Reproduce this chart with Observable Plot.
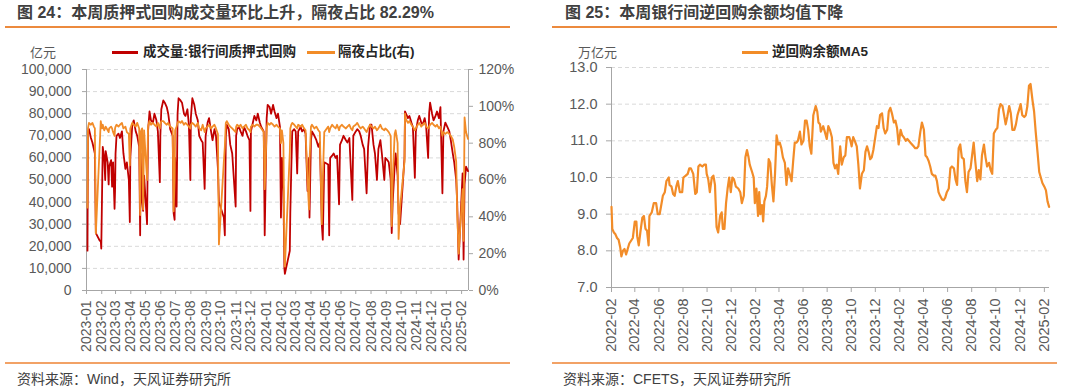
<!DOCTYPE html>
<html><head><meta charset="utf-8">
<script src="https://cdn.jsdelivr.net/npm/d3@7"></script>
<script src="https://cdn.jsdelivr.net/npm/@observablehq/plot@0.6"></script>
<style>
body{margin:0;background:#fff;}
#root{position:relative;width:1080px;height:392px;overflow:hidden;background:#fff;}
.abs{position:absolute;white-space:nowrap;}
.title{font-family:"Liberation Sans","Noto Sans CJK SC",sans-serif;font-weight:700;font-size:16px;line-height:16px;color:#404040;}
.rule{height:1.5px;}
.unit{font-family:"Noto Sans CJK SC",sans-serif;font-size:13px;line-height:14px;color:#595959;}
.leg{font-family:"Liberation Sans","Noto Sans CJK SC",sans-serif;font-weight:700;font-size:13.5px;line-height:14px;color:#262626;}
.legline{height:2.5px;}
.src{font-family:"Liberation Sans","Noto Sans CJK SC",sans-serif;font-size:14px;line-height:14px;color:#404040;}
.chart{position:absolute;top:0;}
</style></head>
<body>
<div id="root">
  <div class="abs title" style="left:17px;top:5px;">图 24：本周质押式回购成交量环比上升，隔夜占比 82.29%</div>
  <div class="abs rule" style="left:5px;top:26px;width:505px;background:#EC8A3D;"></div>
  <div class="abs title" style="left:565px;top:5px;">图 25：本周银行间逆回购余额均值下降</div>
  <div class="abs rule" style="left:552px;top:26px;width:505px;background:#EC8A3D;"></div>

  <div id="c1" class="chart" style="left:0px;"></div>
  <div id="c2" class="chart" style="left:540px;"></div>

  <div class="abs unit" style="left:30px;top:45px;">亿元</div>
  <div class="abs legline" style="left:112px;top:51px;width:26px;background:#C00000;"></div>
  <div class="abs leg" style="left:143px;top:45px;">成交量:银行间质押式回购</div>
  <div class="abs legline" style="left:307px;top:51px;width:28px;background:#F28C28;"></div>
  <div class="abs leg" style="left:338px;top:45px;">隔夜占比(右)</div>

  <div class="abs unit" style="left:578px;top:45px;">万亿元</div>
  <div class="abs legline" style="left:742px;top:51px;width:26px;background:#F28C28;"></div>
  <div class="abs leg" style="left:772px;top:45px;">逆回购余额MA5</div>

  <div class="abs rule" style="left:5px;top:362px;width:505px;background:#F2A266;"></div>
  <div class="abs rule" style="left:552px;top:362px;width:505px;background:#F2A266;"></div>
  <div class="abs src" style="left:17px;top:372px;">资料来源：Wind，天风证券研究所</div>
  <div class="abs src" style="left:563px;top:372px;">资料来源：CFETS，天风证券研究所</div>
</div>
<script>
// ---------- Figure 24 data ----------
const leftDates = ["2023-01-03","2023-01-04","2023-01-06","2023-01-10","2023-01-13","2023-01-16","2023-01-18","2023-01-20","2023-01-28","2023-01-30","2023-01-31","2023-02-02","2023-02-03","2023-02-06","2023-02-08","2023-02-09","2023-02-13","2023-02-15","2023-02-16","2023-02-20","2023-02-22","2023-02-24","2023-02-27","2023-02-28","2023-03-01","2023-03-03","2023-03-07","2023-03-10","2023-03-14","2023-03-17","2023-03-21","2023-03-24","2023-03-28","2023-03-30","2023-03-31","2023-04-04","2023-04-07","2023-04-11","2023-04-14","2023-04-18","2023-04-20","2023-04-21","2023-04-24","2023-04-26","2023-04-28","2023-05-04","2023-05-06","2023-05-09","2023-05-12","2023-05-16","2023-05-19","2023-05-23","2023-05-26","2023-05-30","2023-05-31","2023-06-02","2023-06-06","2023-06-09","2023-06-13","2023-06-16","2023-06-20","2023-06-25","2023-06-27","2023-06-29","2023-06-30","2023-07-03","2023-07-05","2023-07-07","2023-07-11","2023-07-14","2023-07-18","2023-07-21","2023-07-25","2023-07-28","2023-07-31","2023-08-01","2023-08-04","2023-08-08","2023-08-11","2023-08-15","2023-08-18","2023-08-22","2023-08-25","2023-08-29","2023-08-31","2023-09-04","2023-09-07","2023-09-11","2023-09-14","2023-09-18","2023-09-21","2023-09-25","2023-09-27","2023-10-07","2023-10-09","2023-10-11","2023-10-13","2023-10-17","2023-10-20","2023-10-24","2023-10-31","2023-11-01","2023-11-03","2023-11-07","2023-11-10","2023-11-14","2023-11-17","2023-11-21","2023-11-24","2023-11-28","2023-11-30","2023-12-01","2023-12-05","2023-12-08","2023-12-12","2023-12-15","2023-12-19","2023-12-22","2023-12-27","2023-12-29","2024-01-02","2024-01-04","2024-01-08","2024-01-11","2024-01-15","2024-01-18","2024-01-22","2024-01-25","2024-01-29","2024-01-31","2024-02-02","2024-02-05","2024-02-07","2024-02-08","2024-02-18","2024-02-19","2024-02-21","2024-02-23","2024-02-27","2024-03-01","2024-03-04","2024-03-06","2024-03-11","2024-03-14","2024-03-18","2024-03-21","2024-03-25","2024-03-28","2024-03-29","2024-04-01","2024-04-03","2024-04-08","2024-04-12","2024-04-16","2024-04-19","2024-04-23","2024-04-25","2024-04-28","2024-05-06","2024-05-08","2024-05-10","2024-05-14","2024-05-17","2024-05-21","2024-05-24","2024-05-28","2024-05-30","2024-06-03","2024-06-06","2024-06-11","2024-06-14","2024-06-18","2024-06-21","2024-06-24","2024-06-26","2024-07-01","2024-07-04","2024-07-08","2024-07-11","2024-07-15","2024-07-18","2024-07-23","2024-07-26","2024-07-30","2024-08-02","2024-08-06","2024-08-09","2024-08-13","2024-08-16","2024-08-20","2024-08-23","2024-08-28","2024-08-30","2024-09-03","2024-09-06","2024-09-10","2024-09-12","2024-09-14","2024-09-18","2024-09-20","2024-09-24","2024-09-26","2024-09-29","2024-10-08","2024-10-09","2024-10-11","2024-10-15","2024-10-18","2024-10-22","2024-10-25","2024-10-29","2024-10-31","2024-11-04","2024-11-07","2024-11-11","2024-11-14","2024-11-18","2024-11-21","2024-11-25","2024-11-27","2024-11-29","2024-12-03","2024-12-06","2024-12-10","2024-12-13","2024-12-17","2024-12-20","2024-12-24","2024-12-26","2024-12-30","2025-01-03","2025-01-07","2025-01-10","2025-01-14","2025-01-17","2025-01-21","2025-01-23","2025-01-26","2025-02-03","2025-02-05","2025-02-07","2025-02-10","2025-02-14"];
// 成交量:银行间质押式回购 (亿元)
const repoVolume = [18000,72000,73000,69000,67000,64000,62000,26000,22500,22500,19000,50000,65000,60000,50000,63000,58000,48000,56000,59000,47000,58000,37000,45000,62000,70000,71000,69000,72000,62000,55000,58000,50000,31000,60000,75000,77000,72000,70000,65000,25000,62000,40000,36000,52000,30000,72000,81000,77000,76000,80000,77000,72000,49000,70000,82000,86000,85000,83000,80000,73000,70000,35000,32000,60000,38000,80000,87000,86000,85000,80000,79000,82000,75000,50000,78000,87000,84000,80000,77000,70000,68000,67000,46000,70000,76000,78000,72000,68000,73000,70000,55000,40000,33000,25000,70000,75000,73000,66000,62000,38000,70000,73000,74000,72000,70000,74000,72000,70000,68000,36000,72000,76000,79000,77000,80000,76000,74000,72000,25000,78000,84000,83000,80000,84000,81000,78000,80000,74000,33000,60000,45000,10000,7500,18000,35000,55000,72000,73000,72000,53000,72000,74000,72000,73000,71000,45000,60000,33000,68000,72000,70000,68000,65000,67000,30000,23000,58000,57000,25000,60000,61000,62000,60000,61000,39000,66000,68000,70000,68000,67000,69000,55000,41000,70000,72000,73000,72000,70000,66000,64000,44000,65000,75000,75000,66000,62000,50000,64000,68000,62000,50000,60000,59000,58000,50000,26000,40000,56000,62000,52000,35000,30000,60000,81000,80000,78000,79000,76000,74000,51000,72000,77000,79000,76000,75000,78000,74000,60000,80000,85000,80000,77000,79000,81000,78000,83000,44000,72000,76000,74000,72000,68000,62000,58000,50000,40000,14000,53000,14000,48000,56000,54000];
// 隔夜占比 (%)
const overnightShare = [45,88,91,90,91,89,88,31,80,92,90,88,90,87,88,89,87,86,88,89,88,86,84,88,89,90,89,90,91,88,89,86,85,68,88,91,90,89,91,88,41,86,88,44,87,60,89,92,90,91,90,89,91,88,90,92,92,91,90,91,89,88,43,60,87,89,91,92,91,92,90,91,90,89,88,90,91,90,89,91,88,87,90,86,88,89,90,88,89,90,88,85,25,70,78,91,92,90,89,88,86,89,90,89,90,88,89,90,88,87,86,89,90,89,90,90,89,88,86,55,88,91,90,91,90,89,90,89,88,80,87,80,20,13,75,88,90,91,90,89,88,90,89,90,88,87,60,44,70,89,90,88,89,87,86,36,60,86,89,86,88,90,89,88,90,87,89,90,89,88,89,90,88,87,89,90,91,89,88,89,88,86,88,90,89,88,89,87,88,90,88,87,88,87,86,84,35,60,85,87,80,28,45,70,96,93,91,92,90,89,87,88,90,91,89,90,91,89,88,89,90,91,90,89,90,88,89,84,86,85,86,85,84,82,78,70,43,20,55,27,94,86,82.29];
const volTicks = [0,10000,20000,30000,40000,50000,60000,70000,80000,90000,100000];
const shareTicks = [0,20,40,60,80,100,120];

// ---------- Figure 25 data ----------
const rrDates = ["2022-02-01","2022-02-03","2022-02-07","2022-02-11","2022-02-15","2022-02-19","2022-02-23","2022-02-26","2022-03-02","2022-03-06","2022-03-10","2022-03-14","2022-03-18","2022-03-27","2022-04-01","2022-04-05","2022-04-07","2022-04-11","2022-04-15","2022-04-20","2022-04-24","2022-04-28","2022-05-02","2022-05-06","2022-05-08","2022-05-14","2022-05-19","2022-05-25","2022-05-29","2022-06-03","2022-06-07","2022-06-11","2022-06-16","2022-06-20","2022-06-26","2022-06-28","2022-07-03","2022-07-07","2022-07-11","2022-07-15","2022-07-19","2022-07-24","2022-07-30","2022-08-02","2022-08-08","2022-08-13","2022-08-17","2022-08-21","2022-08-27","2022-09-01","2022-09-05","2022-09-09","2022-09-13","2022-09-19","2022-09-24","2022-09-28","2022-09-30","2022-10-04","2022-10-08","2022-10-13","2022-10-17","2022-10-21","2022-10-25","2022-10-29","2022-11-03","2022-11-07","2022-11-10","2022-11-14","2022-11-18","2022-11-22","2022-11-26","2022-11-30","2022-12-04","2022-12-08","2022-12-13","2022-12-19","2022-12-24","2022-12-28","2023-01-02","2023-01-06","2023-01-10","2023-01-14","2023-01-17","2023-01-23","2023-01-27","2023-01-30","2023-02-03","2023-02-07","2023-02-10","2023-02-13","2023-02-17","2023-02-20","2023-02-23","2023-02-27","2023-03-02","2023-03-06","2023-03-10","2023-03-14","2023-03-18","2023-03-22","2023-03-26","2023-03-30","2023-04-03","2023-04-07","2023-04-11","2023-04-16","2023-04-20","2023-04-24","2023-04-28","2023-05-03","2023-05-07","2023-05-11","2023-05-15","2023-05-19","2023-05-24","2023-05-28","2023-06-02","2023-06-06","2023-06-10","2023-06-14","2023-06-18","2023-06-22","2023-06-27","2023-07-03","2023-07-07","2023-07-10","2023-07-14","2023-07-16","2023-07-22","2023-07-26","2023-07-31","2023-08-04","2023-08-08","2023-08-13","2023-08-17","2023-08-21","2023-08-25","2023-08-29","2023-09-03","2023-09-07","2023-09-12","2023-09-16","2023-09-20","2023-09-26","2023-09-29","2023-10-02","2023-10-06","2023-10-10","2023-10-15","2023-10-19","2023-10-23","2023-10-28","2023-11-02","2023-11-06","2023-11-10","2023-11-14","2023-11-18","2023-11-22","2023-11-26","2023-12-05","2023-12-09","2023-12-13","2023-12-18","2023-12-22","2023-12-26","2023-12-31","2024-01-04","2024-01-08","2024-01-12","2024-01-17","2024-01-21","2024-01-25","2024-01-29","2024-02-03","2024-02-07","2024-02-11","2024-02-16","2024-02-20","2024-02-24","2024-02-28","2024-03-07","2024-03-11","2024-03-15","2024-03-19","2024-03-24","2024-03-28","2024-04-02","2024-04-06","2024-04-10","2024-04-14","2024-04-18","2024-04-22","2024-04-27","2024-05-01","2024-05-05","2024-05-09","2024-05-13","2024-05-18","2024-05-22","2024-05-26","2024-05-30","2024-06-04","2024-06-08","2024-06-12","2024-06-17","2024-06-21","2024-06-25","2024-06-29","2024-07-03","2024-07-07","2024-07-12","2024-07-16","2024-07-20","2024-07-24","2024-07-29","2024-08-02","2024-08-06","2024-08-10","2024-08-15","2024-08-19","2024-08-23","2024-08-27","2024-09-01","2024-09-05","2024-09-09","2024-09-14","2024-09-18","2024-09-22","2024-09-26","2024-10-01","2024-10-05","2024-10-09","2024-10-13","2024-10-18","2024-10-22","2024-10-26","2024-10-30","2024-11-04","2024-11-08","2024-11-12","2024-11-17","2024-11-21","2024-11-25","2024-11-29","2024-12-03","2024-12-07","2024-12-12","2024-12-16","2024-12-20","2024-12-24","2024-12-28","2025-01-02","2025-01-06","2025-01-10","2025-01-15","2025-01-19","2025-01-23","2025-01-27","2025-02-01","2025-02-05","2025-02-09","2025-02-13"];
// 逆回购余额MA5 (万亿元)
const rrBalance = [9.2,8.6,8.5,8.45,8.35,8.3,8.1,7.85,8.0,8.05,7.9,8.05,8.2,8.35,8.8,8.8,8.4,8.15,8.5,8.9,8.95,8.6,8.55,8.15,8.95,9.05,9.3,9.3,9.0,9.0,9.25,9.5,9.6,9.9,10.0,9.8,9.75,9.55,9.5,9.75,9.9,9.6,9.6,10.0,10.05,10.1,10.25,10.25,10.1,9.55,9.6,10.3,10.35,10.3,10.35,10.35,10.1,9.95,9.6,10.0,10.05,9.8,8.65,8.5,8.95,9.05,8.6,8.6,9.3,9.7,10.0,9.6,10.0,9.95,9.75,9.7,9.6,9.3,9.5,10.55,10.75,10.55,10.35,10.15,10.0,9.3,9.7,8.95,9.6,9.0,9.25,8.8,9.35,9.5,9.75,10.5,10.4,9.8,9.35,10.1,11.15,10.9,10.95,10.8,10.55,10.4,9.8,10.25,10.1,9.9,10.45,10.95,10.95,11.0,11.25,10.9,11.0,11.55,11.55,11.3,10.85,10.65,11.7,11.95,11.8,11.5,11.45,11.25,11.4,11.25,11.05,11.4,11.3,11.1,10.4,10.25,10.35,10.1,10.85,10.35,10.55,10.6,11.1,11.1,11.0,10.85,11.1,11.0,10.85,10.35,9.7,10.1,10.2,10.7,10.85,10.7,10.5,10.55,10.75,11.4,11.35,11.7,11.75,11.35,11.2,11.3,11.8,11.9,11.75,11.5,11.55,11.35,10.9,11.3,11.15,11.1,11.0,11.05,11.0,10.95,10.85,10.8,10.8,10.85,11.25,11.5,11.3,10.6,10.55,10.45,10.3,10.1,10.05,10.05,9.9,9.6,9.5,9.4,9.38,9.45,9.6,9.7,10.25,10.3,10.25,9.95,9.8,10.8,10.9,10.55,10.5,9.9,9.6,10.15,10.25,10.6,10.95,10.45,9.9,10.2,9.95,10.6,10.9,10.55,10.3,10.4,10.2,10.1,11.2,11.3,11.35,11.85,12.0,11.95,11.7,11.45,11.65,11.95,11.75,11.3,11.3,11.45,11.7,11.85,12.0,11.7,11.65,11.7,11.95,12.5,12.55,12.1,11.8,11.25,10.65,10.15,10.0,9.85,9.75,9.65,9.35,9.2];
const rrTicks = [7,8,9,10,11,12,13];

// ---------- build ----------
const RED = "#C00000", ORANGE = "#F28C28";
const TICKTXT = "#595959", AXIS = "#A6A6A6", GRID = "#D9D9D9";
const fmtMonth = d3.utcFormat("%Y-%m");
const baseStyle = {fontFamily: '"Liberation Sans", Arial, sans-serif', fontSize: "14px", color: TICKTXT, background: "transparent", overflow: "visible"};

const shareToVol = p => p * 100000 / 120;
const rows1 = leftDates.map((d, i) => ({date: new Date(d), vol: repoVolume[i], share: shareToVol(overnightShare[i])}));
const x1 = [new Date("2023-01-01"), new Date("2025-02-15")];
const months1 = d3.utcMonth.range(new Date("2023-01-01"), new Date("2025-02-02"));

const chart1 = Plot.plot({
  width: 540, height: 355,
  marginLeft: 86, marginRight: 72, marginTop: 69, marginBottom: 65,
  style: baseStyle,
  x: {type: "utc", domain: x1},
  y: {domain: [0, 100000]},
  marks: [
    Plot.gridY(volTicks.slice(1), {stroke: GRID, strokeOpacity: 1, strokeDasharray: "4,3"}),
    Plot.ruleX(x1, {stroke: AXIS}),
    Plot.ruleY([0], {stroke: AXIS}),
    Plot.lineY(rows1, {x: "date", y: "vol", stroke: RED, strokeWidth: 1.8}),
    Plot.lineY(rows1, {x: "date", y: "share", stroke: ORANGE, strokeWidth: 1.8}),
    Plot.axisY(volTicks, {anchor: "left", tickFormat: d3.format(","), tickSize: 4, tickPadding: 11, stroke: AXIS, fill: TICKTXT, label: null}),
    Plot.axisY(shareTicks.map(shareToVol), {anchor: "right", tickFormat: d => Math.round(d * 120 / 100000) + "%", tickSize: 4, tickPadding: 6, stroke: AXIS, fill: TICKTXT, label: null}),
    Plot.axisX(months1, {tickFormat: fmtMonth, tickRotate: -90, tickSize: 4, tickPadding: 6, stroke: AXIS, fill: TICKTXT, label: null})
  ]
});
document.getElementById("c1").appendChild(chart1);

const rows2 = rrDates.map((d, i) => ({date: new Date(d), v: rrBalance[i]}));
const x2 = [new Date("2022-02-01"), new Date("2025-02-14")];
const months2 = d3.utcMonth.range(new Date("2022-02-01"), new Date("2025-02-02"), 2);

const chart2 = Plot.plot({
  width: 540, height: 355,
  marginLeft: 71, marginRight: 31, marginTop: 67, marginBottom: 68,
  style: {...baseStyle, fontSize: "14.5px"},
  x: {type: "utc", domain: x2},
  y: {domain: [7, 13]},
  marks: [
    Plot.gridY(rrTicks.slice(1), {stroke: GRID, strokeOpacity: 1, strokeDasharray: "4,3"}),
    Plot.ruleX([x2[0]], {stroke: AXIS}),
    Plot.ruleY([7], {stroke: AXIS}),
    Plot.lineY(rows2, {x: "date", y: "v", stroke: ORANGE, strokeWidth: 2.2}),
    Plot.axisY(rrTicks, {anchor: "left", tickFormat: d3.format(".1f"), tickSize: 5, tickPadding: 9, stroke: AXIS, fill: TICKTXT, label: null}),
    Plot.axisX(months2, {tickFormat: fmtMonth, tickRotate: -90, tickSize: 5, tickPadding: 6, stroke: AXIS, fill: TICKTXT, label: null})
  ]
});
document.getElementById("c2").appendChild(chart2);
</script>
</body></html>
